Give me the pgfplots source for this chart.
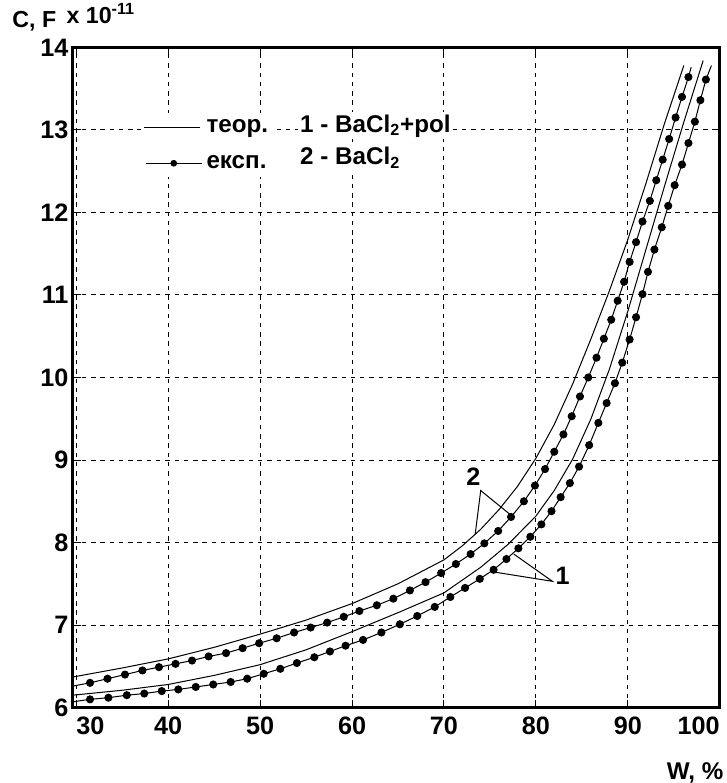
\documentclass[border=0pt]{standalone}
\usepackage{fontspec}
\setmainfont{Liberation Sans}
\usepackage{pgfplots}
\pgfplotsset{compat=1.18}
\pgfplotsset{
  legline/.style={legend image code/.code={\draw[##1] (0pt,0pt) -- (28pt,0pt);}},
  legmark/.style={legend image code/.code={\draw[mark repeat=2,mark phase=2,##1] plot coordinates {(1pt,0pt) (15pt,0pt) (29pt,0pt)};}},
}

% experimental curves: first and last rows are the line ends (no dot)
\pgfplotstableread{
x y
29.6 6.26
31.5 6.30
33.4 6.35
35.3 6.40
37.2 6.45
39.0 6.49
40.8 6.53
42.6 6.57
44.4 6.62
46.3 6.66
48.1 6.72
49.9 6.78
51.8 6.84
53.7 6.91
55.5 6.97
57.3 7.03
59.1 7.10
60.8 7.17
62.7 7.24
64.5 7.32
66.3 7.42
68.0 7.52
69.7 7.63
71.3 7.74
72.9 7.86
74.4 7.99
75.9 8.14
77.3 8.31
78.7 8.50
79.9 8.69
81.0 8.89
82.0 9.10
83.0 9.31
83.9 9.53
84.8 9.77
85.7 10.00
86.6 10.24
87.4 10.47
88.2 10.70
88.9 10.93
89.6 11.16
90.2 11.40
90.9 11.64
91.6 11.89
92.4 12.14
93.1 12.39
93.8 12.64
94.5 12.89
95.2 13.15
95.9 13.40
96.6 13.64
96.9 13.76
}\exptwo

\pgfplotstableread{
x y
29.6 6.07
31.5 6.10
33.5 6.12
35.5 6.15
37.4 6.17
39.3 6.20
41.1 6.22
43.0 6.25
44.9 6.28
46.8 6.31
48.6 6.35
50.4 6.41
52.2 6.47
54.0 6.54
55.9 6.61
57.6 6.68
59.3 6.75
61.2 6.82
63.2 6.91
65.2 7.01
67.1 7.11
69.0 7.22
70.7 7.34
72.3 7.45
73.9 7.56
75.4 7.67
76.8 7.80
78.1 7.93
79.4 8.07
80.6 8.22
81.7 8.38
82.7 8.55
83.7 8.72
84.7 8.92
85.8 9.18
86.8 9.45
87.7 9.69
88.6 9.93
89.4 10.18
90.2 10.46
90.9 10.73
91.6 11.01
92.2 11.28
92.9 11.55
93.7 11.82
94.4 12.08
95.1 12.33
95.9 12.58
96.6 12.84
97.3 13.10
97.9 13.36
98.5 13.61
99.1 13.78
}\expone

\pgfplotstableread{
x y
29.6 6.37
35 6.48
40 6.59
45 6.73
50 6.89
55 7.06
60 7.26
65 7.50
70 7.79
72 7.96
74 8.16
76 8.40
78 8.68
80 9.02
82 9.43
84 9.92
86 10.47
88 11.05
90 11.67
92 12.36
94 13.08
96.1 13.78
}\theortwo

\pgfplotstableread{
x y
29.6 6.15
35 6.21
40 6.28
45 6.39
50 6.52
55 6.70
60 6.92
65 7.15
70 7.39
74 7.70
77 7.98
80 8.32
82 8.63
84 9.01
86 9.50
88 10.10
90 10.80
92 11.56
94 12.32
96 13.06
98.2 13.84
}\theorone

\begin{document}
\begin{tikzpicture}
\begin{axis}[
  scale only axis,
  width=321pt, height=327.5pt,
  xmin=29.6, xmax=100, ymin=6, ymax=14,
  xtick={30,40,50,60,70,80,90,100},
  xticklabels={\rlap{30},40,50,60,70,80,90,\llap{100}},
  ytick={6,...,14},
  /pgf/number format/assume math mode=true,
  ticklabel style={font=\bfseries\fontsize{12.5}{14}\selectfont},
  xticklabel style={yshift=-1pt},
  yticklabel style={xshift=1.5pt},
  grid=major,
  major grid style={black, line width=0.5pt, dash pattern=on 2.2pt off 2.4pt},
  tick style={black, line width=0.5pt},
  major tick length=4pt,
  axis line style={line width=1.6pt},
  legend style={draw=none, fill=white, at={(axis cs:37.0,13.21)}, anchor=north west,
    font=\bfseries\fontsize{12}{14}\selectfont, inner sep=1pt, row sep=6pt,
    cells={anchor=west}},
  clip=true,
]
\addlegendimage{black, line width=0.5pt, legline}
\addlegendentry{теор.}
\addlegendimage{black, line width=0.5pt, mark=*, mark size=1.4pt, legmark}
\addlegendentry{експ.}

\addplot[forget plot, black, line width=0.5pt] table[x=x,y=y] {\theortwo};
\addplot[forget plot, black, line width=0.5pt] table[x=x,y=y] {\theorone};
\addplot[forget plot, black, line width=0.5pt, mark=*, mark size=1.75pt, mark indices={2,...,51}] table[x=x,y=y] {\exptwo};
\addplot[forget plot, black, line width=0.5pt, mark=*, mark size=1.75pt, mark indices={2,...,52}] table[x=x,y=y] {\expone};

% callouts
\draw[line width=0.5pt] (axis cs:73.4,8.10) -- (axis cs:74.0,8.63) -- (axis cs:77.2,8.34);
\node[font=\bfseries\fontsize{12.5}{14}\selectfont, inner sep=0pt] at (axis cs:73.2,8.80) {2};
\draw[line width=0.5pt] (axis cs:77.6,7.86) -- (axis cs:81.8,7.53) -- (axis cs:75.6,7.64);
\node[font=\bfseries\fontsize{12.5}{14}\selectfont, inner sep=0pt] at (axis cs:82.9,7.60) {1};

\node[font=\bfseries\fontsize{12}{14}\selectfont, fill=white, inner sep=1pt, anchor=west] at (axis cs:54.1,13.05) {1 - BaCl\textsubscript{2}+pol};
\node[font=\bfseries\fontsize{12}{14}\selectfont, fill=white, inner sep=1pt, anchor=west] at (axis cs:54.1,12.66) {2 - BaCl\textsubscript{2}};

\coordinate (tl) at (rel axis cs:0,1);
\coordinate (br) at (rel axis cs:1,0);
\end{axis}
% axis titles
\path ([xshift=-36pt]tl) -- ([xshift=-36pt,yshift=23.5pt]tl);
\node[font=\bfseries\fontsize{11.5}{13}\selectfont, anchor=south west, inner sep=0pt] at ([xshift=-30pt,yshift=8pt]tl) {C, F\,\raisebox{2pt}{ x 10\textsuperscript{-11}}};
\node[font=\bfseries\fontsize{12}{14}\selectfont, anchor=north east, inner sep=0pt] at ([xshift=2pt,yshift=-27pt]br) {W, \%};
\end{tikzpicture}
\end{document}
